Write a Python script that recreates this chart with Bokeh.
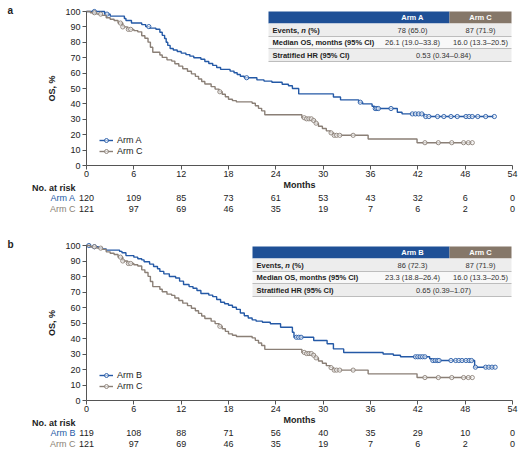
import numpy as np
from bokeh.plotting import figure
from bokeh.models import Range1d, FixedTicker, Legend, LegendItem
from bokeh.layouts import column
from bokeh.embed import file_html
from bokeh.resources import INLINE
from bokeh.core.properties import value

FONT = "Liberation Sans"
BLUE = "#2459a6"
GRAY = "#8a7f76"
HDR_BLUE = "#1f5096"
HDR_BROWN = "#857769"
TXT = "#222222"

# ---------------- data ----------------
x_ticks = [0, 6, 12, 18, 24, 30, 36, 42, 48, 54]
y_ticks = [0, 10, 20, 30, 40, 50, 60, 70, 80, 90, 100]

# Arm C (control, same in both panels)
time_C = [0, 0.5, 1.3, 2.0, 2.5, 3.0, 3.5, 4.0, 4.6, 5.2, 6.0, 6.5, 7.0, 7.4, 7.8,
          8.1, 8.4, 9.3, 9.6, 10.2, 10.8, 11.2, 11.7, 12.2, 12.8, 13.3, 13.8, 14.2,
          14.6, 15.0, 15.8, 16.3, 16.8, 17.2, 17.6, 18.0, 18.5, 19.0, 21.0, 21.4,
          21.8, 22.2, 22.6, 27.3, 27.9, 28.6, 29.0, 29.4, 29.9, 30.4, 30.9, 31.3,
          35.7, 41.9]
surv_C = [100, 99.2, 98.3, 97.5, 95.9, 95.0, 94.2, 92.5, 90.0, 88.4, 87.6, 86.8,
          84.3, 82.6, 80.1, 76.8, 73.5, 71.8, 70.2, 68.6, 67.8, 66.1, 64.5, 62.8,
          61.2, 59.5, 57.9, 56.2, 54.5, 52.9, 51.2, 49.6, 47.9, 46.3, 44.6, 43.0,
          42.1, 41.3, 40.4, 38.8, 37.1, 35.5, 33.0, 31.0, 30.3, 29.2, 27.5, 25.5,
          24.0, 22.5, 21.2, 19.6, 17.2, 14.8]
cens_C = [1.0, 1.8, 4.3, 4.6, 5.3, 5.6, 16.9, 27.6, 27.9, 28.2, 28.5, 28.8, 29.1,
          31.0, 31.4, 31.7, 32.1, 33.8, 42.9, 44.6, 46.3, 47.8, 48.4, 48.9]

# Arm A
time_A = [0, 2.3, 3.0, 4.8, 5.0, 5.7, 7.0, 7.5, 8.0, 8.8, 9.3, 9.6, 9.9, 10.1, 10.3,
          10.6, 11.0, 11.5, 12.0, 12.6, 13.1, 13.6, 14.5, 15.0, 15.5, 16.0, 16.5,
          17.0, 18.2, 18.7, 19.1, 19.5, 20.0, 21.6, 22.5, 23.5, 24.8, 25.6, 26.1,
          26.9, 31.3, 32.2, 34.5, 35.0, 36.2, 36.5, 39.4, 40.0, 42.8]
surv_A = [100, 98.3, 97.0, 95.5, 94.2, 92.5, 91.5, 90.2, 89.2, 88.5, 86.5, 84.5,
          82.5, 80.0, 78.0, 76.0, 75.0, 74.0, 73.0, 72.0, 71.0, 70.0, 69.0, 67.5,
          66.2, 65.0, 63.6, 62.4, 61.3, 60.2, 59.1, 58.0, 57.0, 55.6, 54.8, 54.1,
          52.8, 51.8, 50.0, 46.5, 44.5, 42.6, 41.1, 40.0, 38.5, 37.0, 34.6, 33.5,
          31.8]
cens_A = [1.0, 2.6, 7.9, 20.3, 34.7, 36.6, 36.8, 37.0, 38.6, 41.3, 41.7, 42.1, 42.5,
          43.0, 43.4, 44.5, 45.3, 46.2, 47.0, 48.1, 48.5, 48.9, 49.6, 50.6, 51.7]

# Arm B
time_B = [0, 0.5, 1.5, 2.0, 2.5, 4.2, 4.5, 5.0, 6.0, 6.5, 7.0, 7.3, 8.0, 8.5, 9.0,
          9.3, 9.8, 10.5, 11.3, 11.8, 12.3, 13.0, 13.5, 14.0, 14.5, 15.5, 16.0, 16.5,
          17.0, 17.5, 18.0, 18.5, 19.0, 19.5, 20.0, 20.5, 21.0, 21.5, 22.3, 23.3,
          24.6, 26.1, 26.3, 28.8, 30.5, 31.3, 32.6, 37.6, 38.9, 39.8, 43.5, 43.8,
          49.2]
surv_B = [100, 99.2, 98.5, 97.8, 97.0, 96.2, 95.3, 93.5, 92.5, 91.5, 90.7, 89.5,
          88.0, 86.5, 85.0, 83.3, 81.7, 80.0, 79.0, 77.0, 74.8, 73.5, 72.4, 71.0,
          69.0, 68.0, 67.0, 65.2, 63.4, 62.4, 61.5, 60.2, 58.8, 56.5, 54.7, 53.2,
          52.0, 51.2, 50.5, 49.5, 47.3, 44.0, 40.8, 38.7, 36.6, 33.3, 31.0, 30.0,
          29.2, 28.2, 26.9, 25.8, 21.5]
cens_B = [0.3, 1.0, 26.6, 26.9, 27.2, 41.7, 42.0, 42.3, 42.6, 42.9, 43.9, 44.2,
          44.5, 44.7, 46.2, 46.8, 47.2, 47.6, 48.1, 48.5, 48.8, 49.3, 50.6, 51.0,
          51.4, 51.8]

# Numbers at risk
risk_months = [0, 6, 12, 18, 24, 30, 36, 42, 48, 54]
risk_A = [120, 109, 85, 73, 61, 53, 43, 32, 6, 0]
risk_B = [119, 108, 88, 71, 56, 40, 35, 29, 10, 0]
risk_C = [121, 97, 69, 46, 35, 19, 7, 6, 2, 0]

# Summary tables
row_labels = ["Events, ", "Median OS, months (95% CI)", "Stratified HR (95% CI)"]
events_A, median_A, hr_A = "78 (65.0)", "26.1 (19.0\u201333.8)", "0.53 (0.34\u20130.84)"
events_B, median_B, hr_B = "86 (72.3)", "23.3 (18.8\u201326.4)", "0.65 (0.39\u20131.07)"
events_C, median_C = "87 (71.9)", "16.0 (13.3\u201320.5)"

# ---------------- layout ----------------
W = 529
AX_L, AX_R = 86, 512          # pixel x of month 0 and month 54
PXX = (AX_R - AX_L) / 54.0


def step_at(times, surv, ts):
    idx = np.searchsorted(np.asarray(times), np.asarray(ts), side="right") - 1
    return list(np.asarray(surv)[idx])


def xd(px):
    return (px - AX_L) / PXX


def panel(letter, exp_name, t_e, s_e, c_e, risk_e, ev_e, med_e, hr,
          height, top, frame_h, tab_left_px, tab_rows_px):
    pxy = frame_h / 100.0

    def yd(py):  # local pixel y (from top of this figure) -> data
        return 100 - (py - top) / pxy

    p = figure(width=W, height=height,
               x_range=Range1d(xd(0), xd(W)), y_range=Range1d(yd(height), yd(0)),
               output_backend="svg", toolbar_location=None,
               min_border=0, min_border_left=0, min_border_right=0,
               min_border_top=0, min_border_bottom=0)
    p.outline_line_color = None
    p.xgrid.visible = False
    p.ygrid.visible = False
    p.background_fill_color = "white"
    p.border_fill_color = "white"

    for ax in (p.xaxis[0], p.yaxis[0]):
        ax.fixed_location = 0
        ax.axis_line_color = "#555555"
        ax.major_tick_line_color = "#555555"
        ax.minor_tick_line_color = None
        ax.major_tick_in = 0
        ax.major_tick_out = 4
        ax.major_label_text_font = FONT
        ax.major_label_text_font_size = "9px"
        ax.major_label_text_color = TXT
        ax.axis_label_text_font = FONT
        ax.axis_label_text_font_size = "9px"
        ax.axis_label_text_font_style = "bold"
        ax.axis_label_text_color = TXT
    p.xaxis.bounds = (0, 54)
    p.yaxis.bounds = (0, 100)
    p.xaxis.ticker = FixedTicker(ticks=x_ticks)
    p.yaxis.ticker = FixedTicker(ticks=y_ticks)
    p.xaxis.major_label_standoff = 1
    p.xaxis.axis_label = "Months"
    p.xaxis.axis_label_standoff = 0
    p.yaxis.axis_label = "OS, %"
    p.yaxis.axis_label_standoff = 5
    p.yaxis.major_label_standoff = 2

    # curves
    rends = []
    for tt0, ss0, c, col in ((t_e, s_e, c_e, BLUE), (time_C, surv_C, cens_C, GRAY)):
        tt = list(tt0) + [max(c)]
        ss = list(ss0) + [ss0[-1]]
        lr = p.step(tt, ss, mode="after", line_color=col, line_width=1.4)
        cr = p.scatter(c, step_at(tt0, ss0, c), marker="circle", size=4.2,
                       line_color=col, fill_color="white", fill_alpha=0.6,
                       line_width=0.9)
        rends.append([lr, cr])

    zero_py = top + frame_h
    leg = Legend(items=[LegendItem(label=exp_name, renderers=rends[0]),
                        LegendItem(label="Arm C", renderers=rends[1])],
                 location=(99, height - zero_py + 9), orientation="vertical")
    leg.background_fill_alpha = 0
    leg.border_line_color = None
    leg.padding = 0
    leg.margin = 0
    leg.spacing = 1
    leg.glyph_width = 14
    leg.glyph_height = 10
    leg.label_height = 10
    leg.label_standoff = 4
    leg.label_text_font = FONT
    leg.label_text_font_size = "9px"
    leg.label_text_color = TXT
    p.add_layout(leg)

    # summary table
    r0, r1, r2, r3, r4 = [top + r for r in tab_rows_px]
    L = xd(tab_left_px)
    S = xd(449)
    R = xd(511)
    p.quad(left=[L], right=[S], top=[yd(r0)], bottom=[yd(r1)],
           fill_color=HDR_BLUE, line_color=None)
    p.quad(left=[S], right=[R], top=[yd(r0)], bottom=[yd(r1)],
           fill_color=HDR_BROWN, line_color=None)
    p.quad(left=[L, L, L], right=[R, R, R],
           top=[yd(r1), yd(r2), yd(r3)], bottom=[yd(r2), yd(r3), yd(r4)],
           fill_color=["#ededed", "#f8f8f8", "#ededed"], line_color=None)
    p.segment(x0=[L, L, L], x1=[R, R, R], y0=[yd(r2), yd(r3), yd(r4)],
              y1=[yd(r2), yd(r3), yd(r4)], line_color="#bdbdbd", line_width=1)

    cA = xd(412)
    cC = xd(480)
    cH = xd(443)
    mid = lambda a, b: (yd(a) + yd(b)) / 2
    common = dict(text_font=value(FONT), text_font_size="7.5px",
                  text_baseline="middle")
    p.text(x=[cA, cC], y=[mid(r0, r1)] * 2, text=[exp_name, "Arm C"],
           text_align="center", text_color="white", text_font_style="bold", **common)
    lx = xd(tab_left_px + 4)
    p.text(x=[lx, lx, lx], y=[mid(r1, r2), mid(r2, r3), mid(r3, r4)],
           text=row_labels, text_align="left", text_color=TXT,
           text_font_style="bold", **common)
    p.text(x=[lx], y=[mid(r1, r2)], text=["n"], x_offset=28.8, text_align="left",
           text_color=TXT, text_font_style="bold italic", **common)
    p.text(x=[lx], y=[mid(r1, r2)], text=["(%)"], x_offset=35.5, text_align="left",
           text_color=TXT, text_font_style="bold", **common)
    p.text(x=[cA, cC, cA, cC, cH],
           y=[mid(r1, r2), mid(r1, r2), mid(r2, r3), mid(r2, r3), mid(r3, r4)],
           text=[ev_e, events_C, med_e, median_C, hr], text_align="center",
           text_color="#333333", text_font_style="normal", **common)

    # panel letter
    p.text(x=[xd(7)], y=[yd(top - 1)], text=[letter], text_align="left",
           text_baseline="middle", text_font=value(FONT), text_font_size="10px",
           text_font_style="bold", text_color=TXT)

    # number at risk
    rc = dict(text_font=value(FONT), text_font_size="9px", text_baseline="middle")
    p.text(x=[xd(75)], y=[yd(zero_py + 22.5)], text=["No. at risk"], text_align="right",
           text_font_style="bold", text_color=TXT, **rc)
    for name, vals, col, off in ((exp_name, risk_e, BLUE, 32.5), ("Arm C", risk_C, GRAY, 43.5)):
        yy = yd(zero_py + off)
        p.text(x=[xd(75)], y=[yy], text=[name], text_align="right",
               text_color=col, **rc)
        p.text(x=risk_months, y=[yy] * len(vals), text=[str(v) for v in vals],
               text_align="center", text_color=TXT, **rc)
    return p


pa = panel("a", "Arm A", time_A, surv_A, cens_A, risk_A, events_A, median_A, hr_A,
           height=225, top=11, frame_h=154, tab_left_px=268,
           tab_rows_px=[0, 12, 25, 37, 50])
pb = panel("b", "Arm B", time_B, surv_B, cens_B, risk_B, events_B, median_B, hr_B,
           height=226, top=20, frame_h=155, tab_left_px=252,
           tab_rows_px=[1, 13, 26, 38, 51])

layout = column(pa, pb, spacing=0)
open("out.html", "w").write(file_html(layout, INLINE))
